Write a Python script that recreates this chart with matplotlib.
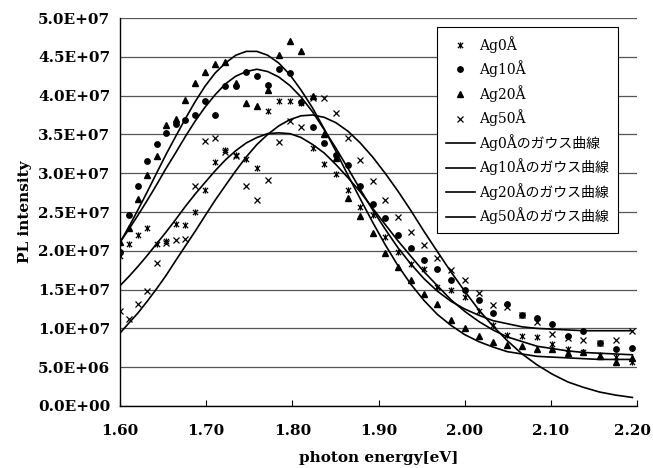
import matplotlib
matplotlib.use('Agg')
import matplotlib.pyplot as plt
from matplotlib.path import Path
from matplotlib.font_manager import FontProperties
from matplotlib.ticker import FuncFormatter, MultipleLocator

# photon energy [eV] (measured every 5 nm, 775 nm -> 565 nm)
energy = [1.6000, 1.6104, 1.6209, 1.6316, 1.6424, 1.6533, 1.6644, 1.6757, 1.6871, 1.6986,
          1.7103, 1.7222, 1.7343, 1.7465, 1.7589, 1.7714, 1.7842, 1.7971, 1.8102, 1.8235,
          1.8370, 1.8507, 1.8647, 1.8788, 1.8931, 1.9077, 1.9225, 1.9375, 1.9528, 1.9683,
          1.9840, 2.0000, 2.0163, 2.0328, 2.0496, 2.0667, 2.0840, 2.1017, 2.1197, 2.1379,
          2.1565, 2.1754, 2.1947]

# PL intensity (x1e7)
ag0 = [1.93, 2.09, 2.20, 2.29, 2.09, 2.12, 2.35, 2.33, 2.50, 2.78,
       3.14, 3.30, 3.24, 3.18, 3.07, 3.80, 3.93, 3.93, 3.91, 3.32,
       3.12, 2.99, 2.79, 2.56, 2.46, 2.18, 1.98, 1.83, 1.77, 1.53,
       1.49, 1.40, 1.22, 1.05, 0.91, 0.90, 0.89, 0.80, 0.73, 0.70,
       0.66, 0.63, 0.57]
ag10 = [1.98, 2.46, 2.84, 3.16, 3.37, 3.52, 3.63, 3.68, 3.75, 3.93,
        3.75, 4.12, 4.12, 4.31, 4.25, 4.14, 4.34, 4.29, 3.92, 3.60,
        3.39, 3.23, 3.11, 2.84, 2.60, 2.42, 2.21, 2.04, 1.88, 1.77,
        1.63, 1.49, 1.37, 1.20, 1.31, 1.17, 1.13, 1.06, 0.90, 0.97,
        0.81, 0.74, 0.75]
ag20 = [2.11, 2.29, 2.67, 2.98, 3.22, 3.62, 3.70, 3.94, 4.16, 4.31,
        4.41, 4.43, 4.16, 3.90, 3.87, 4.07, 4.52, 4.70, 4.57, 4.00,
        3.51, 3.20, 2.68, 2.45, 2.23, 1.97, 1.79, 1.63, 1.44, 1.31,
        1.11, 1.01, 0.90, 0.82, 0.78, 0.77, 0.74, 0.74, 0.68, 0.70,
        0.65, 0.57, 0.62]
ag50 = [1.22, 1.12, 1.32, 1.48, 1.84, 2.10, 2.14, 2.15, 2.84, 3.42,
        3.45, 3.27, 3.22, 2.84, 2.66, 2.91, 3.40, 3.67, 3.60, 3.97,
        3.97, 3.77, 3.45, 3.17, 2.90, 2.65, 2.44, 2.24, 2.07, 1.91,
        1.75, 1.62, 1.45, 1.30, 1.27, 1.17, 1.08, 0.93, 0.88, 0.85,
        0.81, 0.85, 0.96]

# ガウス曲線 (x1e7)
gauss_ag0 = [1.55, 1.67, 1.80, 1.94, 2.09, 2.24, 2.40, 2.57, 2.73, 2.88,
             3.03, 3.17, 3.29, 3.39, 3.46, 3.51, 3.52, 3.51, 3.46, 3.37,
             3.26, 3.11, 2.94, 2.76, 2.55, 2.34, 2.13, 1.93, 1.73, 1.55,
             1.37, 1.22, 1.09, 0.98, 0.89, 0.83, 0.77, 0.74, 0.71, 0.69,
             0.68, 0.67, 0.66]
gauss_ag10 = [2.11, 2.28, 2.46, 2.65, 2.85, 3.06, 3.26, 3.47, 3.67, 3.85,
              4.01, 4.15, 4.25, 4.31, 4.34, 4.31, 4.24, 4.13, 3.98, 3.79,
              3.56, 3.32, 3.06, 2.79, 2.53, 2.28, 2.04, 1.83, 1.64, 1.48,
              1.35, 1.25, 1.17, 1.10, 1.06, 1.02, 1.00, 0.99, 0.98, 0.97,
              0.97, 0.97, 0.97]
gauss_ag20 = [2.11, 2.31, 2.53, 2.76, 3.00, 3.24, 3.47, 3.70, 3.92, 4.12,
              4.29, 4.42, 4.52, 4.57, 4.57, 4.52, 4.42, 4.27, 4.07, 3.84,
              3.57, 3.28, 2.97, 2.67, 2.37, 2.08, 1.81, 1.57, 1.36, 1.18,
              1.04, 0.92, 0.83, 0.76, 0.70, 0.67, 0.64, 0.63, 0.62, 0.61,
              0.60, 0.60, 0.60]
gauss_ag50 = [0.94, 1.07, 1.20, 1.35, 1.51, 1.68, 1.87, 2.06, 2.25, 2.45,
              2.65, 2.84, 3.03, 3.21, 3.37, 3.50, 3.61, 3.69, 3.74, 3.75,
              3.72, 3.65, 3.54, 3.39, 3.21, 3.00, 2.77, 2.52, 2.25, 1.99,
              1.73, 1.48, 1.24, 1.03, 0.84, 0.67, 0.53, 0.41, 0.31, 0.24,
              0.18, 0.14, 0.11]

labels = ['Ag0Å', 'Ag10Å', 'Ag20Å', 'Ag50Å']

scale = 1e7
x_max = 2.2

# Excel風の * マーカー (x + 縦線)
star = Path([(-1, -1), (1, 1), (-1, 1), (1, -1), (0, -1.2), (0, 1.2)],
            [Path.MOVETO, Path.LINETO, Path.MOVETO, Path.LINETO, Path.MOVETO, Path.LINETO])

fig = plt.figure(figsize=(6.53, 4.68), dpi=100)
ax = fig.add_axes([0.1838, 0.1325, 0.7917, 0.829])

def sc(vals):
    return [v * scale for v in vals]

ax.plot(energy, sc(ag0), linestyle='none', marker=star, ms=4.5, mew=0.9,
        color='black', label=labels[0])
ax.plot(energy, sc(ag10), linestyle='none', marker='o', ms=3.9,
        color='black', label=labels[1])
ax.plot(energy, sc(ag20), linestyle='none', marker='^', ms=4.4,
        color='black', label=labels[2])
ax.plot(energy, sc(ag50), linestyle='none', marker='x', ms=4.2, mew=0.9,
        color='black', label=labels[3])

for g, lab in zip([gauss_ag0, gauss_ag10, gauss_ag20, gauss_ag50], labels):
    ax.plot(energy, sc(g), color='black', lw=1.2, label=lab + 'のガウス曲線')

ax.set_xlim(1.6, x_max)
ax.set_ylim(0, 5e7)
ax.xaxis.set_major_locator(MultipleLocator(0.1))
ax.yaxis.set_major_locator(MultipleLocator(5e6))
# 右端(2.20)は画像端で切れるので別に書く
ax.xaxis.set_major_formatter(FuncFormatter(lambda v, p: '' if v > x_max - 0.01 else '%.2f' % v))
ax.yaxis.set_major_formatter(FuncFormatter(lambda v, p: '%.1E' % v))

ax.yaxis.grid(True, color='#555555', lw=0.9)
ax.set_axisbelow(True)
for s in ['top', 'right']:
    ax.spines[s].set_visible(False)
for s in ['left', 'bottom']:
    ax.spines[s].set_color('black')
    ax.spines[s].set_linewidth(1.0)

tick_font = {'family': 'DejaVu Serif', 'weight': 'bold', 'size': 11}
ax.tick_params(axis='x', direction='in', length=4, width=0.8, pad=13)
ax.tick_params(axis='y', length=0, pad=7)
for t in ax.get_xticklabels() + ax.get_yticklabels():
    t.set_fontfamily('DejaVu Serif')
    t.set_fontweight('bold')
    t.set_fontsize(11)

ax.annotate('%.2f' % x_max, xy=(x_max, 0), xycoords=('data', 'axes fraction'),
            xytext=(-3.5, -13), textcoords='offset points', ha='center', va='top',
            fontfamily='DejaVu Serif', fontweight='bold', fontsize=11,
            annotation_clip=False)

ax.set_xlabel('photon energy[eV]', fontdict=tick_font, labelpad=9)
ax.set_ylabel('PL intensity', fontdict=tick_font, labelpad=4)

leg_font = FontProperties(family=['DejaVu Serif', 'Noto Sans CJK JP'], size=10)
leg = ax.legend(loc='upper right', bbox_to_anchor=(0.963, 0.977), borderaxespad=0,
                prop=leg_font, numpoints=1, handlelength=2.1, handletextpad=0.3,
                labelspacing=0.55, borderpad=0.65, fancybox=False, framealpha=1)
leg.get_frame().set_edgecolor('black')
leg.get_frame().set_linewidth(0.8)

plt.savefig('out.png', dpi=100)
plt.close()
